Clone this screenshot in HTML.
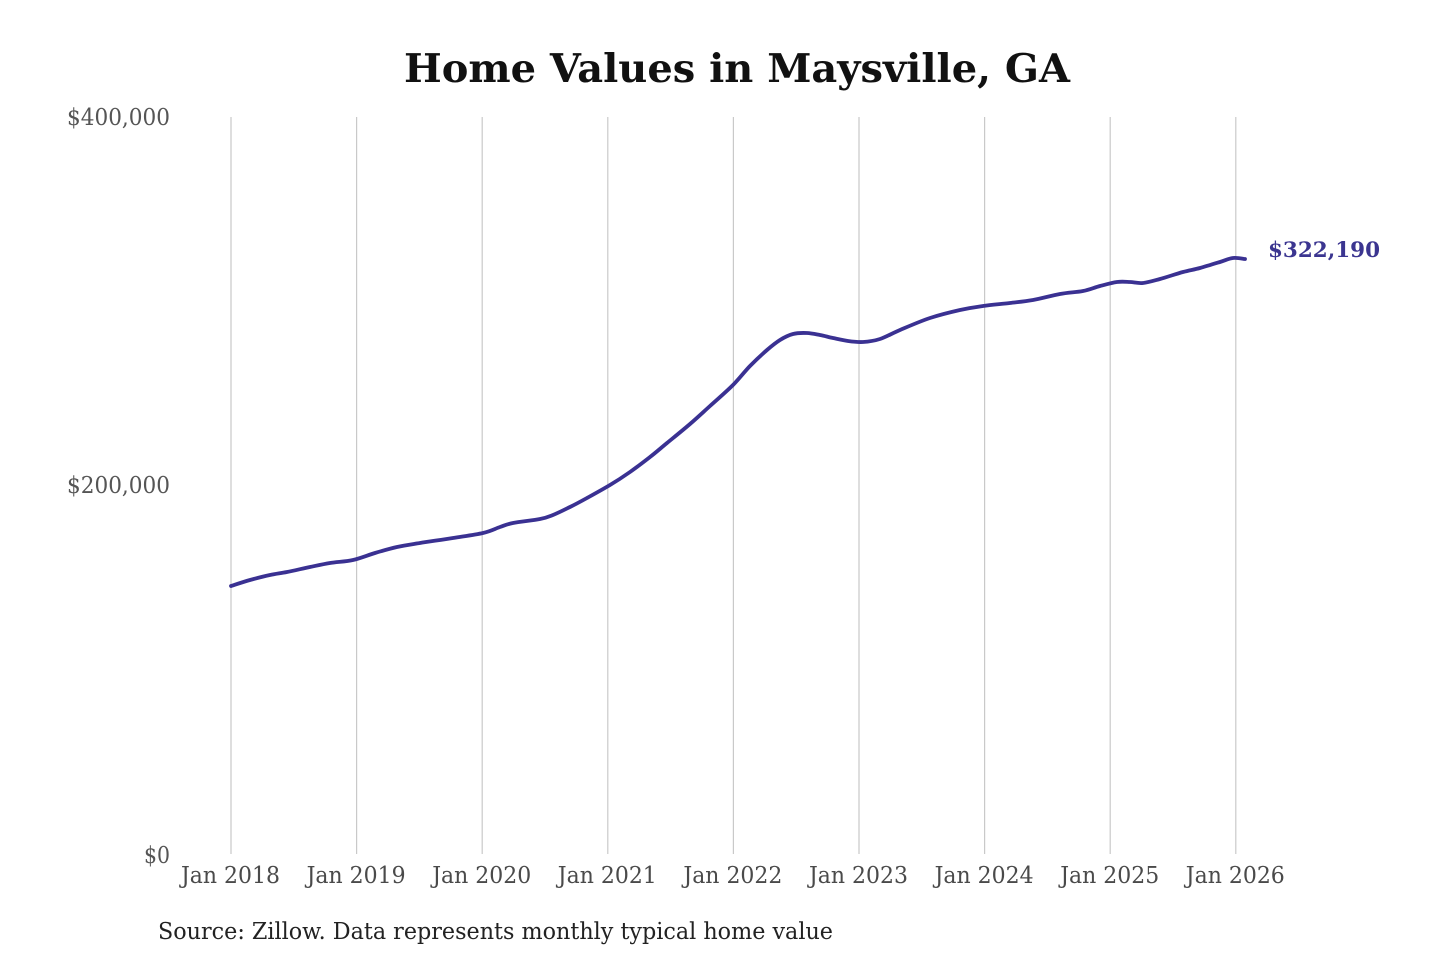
<!DOCTYPE html>
<html>
<head>
<meta charset="utf-8">
<style>
  html, body { margin: 0; padding: 0; background: #ffffff; }
  body { width: 1440px; height: 960px; overflow: hidden; }
  svg { display: block; }
  text { font-family: "DejaVu Serif", "Liberation Serif", serif; }
</style>
</head>
<body>
<svg width="1440" height="960" viewBox="0 0 1440 960" xmlns="http://www.w3.org/2000/svg">
  <rect width="1440" height="960" fill="#ffffff"/>

  <!-- Title -->
  <text x="404" y="82" font-size="39" font-weight="bold" fill="#111111" textLength="666" lengthAdjust="spacingAndGlyphs">Home Values in Maysville, GA</text>

  <!-- Gridlines -->
  <g stroke="#c9c9c9" stroke-width="1.2">
    <line x1="231" y1="117" x2="231" y2="854"/>
    <line x1="356.6" y1="117" x2="356.6" y2="854"/>
    <line x1="482.2" y1="117" x2="482.2" y2="854"/>
    <line x1="607.8" y1="117" x2="607.8" y2="854"/>
    <line x1="733.4" y1="117" x2="733.4" y2="854"/>
    <line x1="859" y1="117" x2="859" y2="854"/>
    <line x1="984.6" y1="117" x2="984.6" y2="854"/>
    <line x1="1110.2" y1="117" x2="1110.2" y2="854"/>
    <line x1="1235.8" y1="117" x2="1235.8" y2="854"/>
  </g>

  <!-- Y axis labels -->
  <g font-size="23" fill="#555555">
    <text x="67" y="125" textLength="103" lengthAdjust="spacingAndGlyphs">$400,000</text>
    <text x="67" y="493" textLength="103" lengthAdjust="spacingAndGlyphs">$200,000</text>
    <text x="144" y="863" textLength="26" lengthAdjust="spacingAndGlyphs">$0</text>
  </g>

  <!-- X axis labels -->
  <g font-size="23" fill="#4a4a4a">
    <text x="181" y="883" textLength="99" lengthAdjust="spacingAndGlyphs">Jan 2018</text>
    <text x="306.6" y="883" textLength="99" lengthAdjust="spacingAndGlyphs">Jan 2019</text>
    <text x="432.2" y="883" textLength="99" lengthAdjust="spacingAndGlyphs">Jan 2020</text>
    <text x="557.8" y="883" textLength="99" lengthAdjust="spacingAndGlyphs">Jan 2021</text>
    <text x="683.4" y="883" textLength="99" lengthAdjust="spacingAndGlyphs">Jan 2022</text>
    <text x="809" y="883" textLength="99" lengthAdjust="spacingAndGlyphs">Jan 2023</text>
    <text x="934.6" y="883" textLength="99" lengthAdjust="spacingAndGlyphs">Jan 2024</text>
    <text x="1060.2" y="883" textLength="99" lengthAdjust="spacingAndGlyphs">Jan 2025</text>
    <text x="1185.8" y="883" textLength="99" lengthAdjust="spacingAndGlyphs">Jan 2026</text>
  </g>

  <!-- Data line -->
  <path id="ln" fill="none" stroke="#3a3192" stroke-width="3.8" stroke-linejoin="round" stroke-linecap="round"
    d="M231,586 L250,580 L270,575 L287,572 L310,567 L330,563 L353,560 L370,555 L397,547 L420,544 L453,539 L483,533 L500,527 L513,523 L540,519 L553,515 L570,507 L587,498 L610,485 L630,472 L650,457 L667,443 L690,424 L710,406 L733,385 L750,366 L767,350 L780,340 L793,334 L807,333 L820,335 L833,338 L848,341 L863,342 L880,339 L900,330 L930,318 L960,310 L983,306 L1010,303 L1033,300 L1060,294 L1083,291 L1100,286 L1117,282 L1130,282 L1143,283 L1160,279 L1183,272 L1200,268 L1220,262 L1233,258 L1245,259"/>

  <!-- End label -->
  <text x="1268" y="257" font-size="21" font-weight="bold" fill="#3b3590" textLength="112" lengthAdjust="spacingAndGlyphs">$322,190</text>

  <!-- Source -->
  <text x="158" y="939" font-size="23" fill="#222222" textLength="675" lengthAdjust="spacingAndGlyphs">Source: Zillow. Data represents monthly typical home value</text>
</svg>
<script>
(function(){
  var p=[[231,586],[250,580],[270,575],[287,572],[310,567],[330,563],[353,560],[375,553],[397,547],[420,543],[453,538],[483,533],[500,527],[513,523],[540,519],[553,515],[570,507],[587,498],[610,485],[630,472],[650,457],[667,443],[690,424],[710,406],[733,385],[750,366],[767,350],[780,340],[793,334],[807,333],[820,335],[833,338],[848,341],[863,342],[880,339],[900,330],[930,318],[960,310],[983,306],[1010,303],[1033,300],[1060,294],[1083,291],[1100,286],[1117,282],[1130,282],[1143,283],[1160,279],[1183,272],[1200,268],[1220,262],[1233,258],[1245,259]];
  var d="M"+p[0][0]+","+p[0][1];
  for(var i=0;i<p.length-1;i++){
    var p0=p[i-1]||p[i],p1=p[i],p2=p[i+1],p3=p[i+2]||p2;
    var c1x=p1[0]+(p2[0]-p0[0])/6,c1y=p1[1]+(p2[1]-p0[1])/6;
    var c2x=p2[0]-(p3[0]-p1[0])/6,c2y=p2[1]-(p3[1]-p1[1])/6;
    d+=" C"+c1x.toFixed(1)+","+c1y.toFixed(1)+" "+c2x.toFixed(1)+","+c2y.toFixed(1)+" "+p2[0]+","+p2[1];
  }
  document.getElementById("ln").setAttribute("d",d);
})();
</script>
</body>
</html>
